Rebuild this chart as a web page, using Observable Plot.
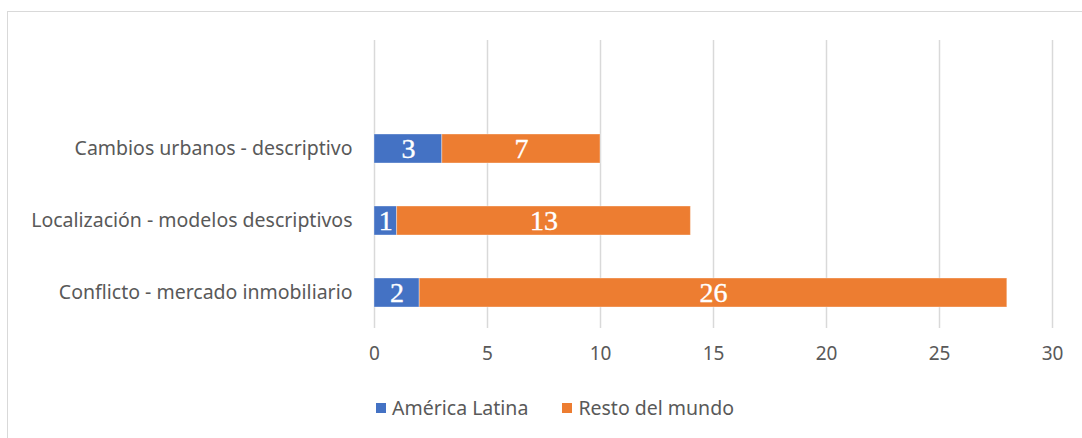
<!DOCTYPE html>
<html>
<head>
<meta charset="utf-8">
<script src="https://cdn.jsdelivr.net/npm/d3@7"></script>
<script src="https://cdn.jsdelivr.net/npm/@observablehq/plot@0.6"></script>
<style>
  html, body { margin: 0; padding: 0; background: #fff; }
  #wrap { position: relative; width: 1082px; height: 438px; overflow: hidden; font-family: "Noto Sans", sans-serif; }
  #frame { position: absolute; left: 7px; top: 11px; width: 1120px; height: 460px; border: 1.5px solid #d9d9d9; box-sizing: border-box; }
  #chart { position: absolute; left: 0; top: 0; }
  #legend { position: absolute; left: 376px; top: 394px; display: flex; gap: 34px; font-size: 19.5px; color: #595959; }
  .item { display: flex; align-items: center; gap: 6px; }
  .sw { width: 10px; height: 10px; display: inline-block; }
</style>
</head>
<body>
<div id="wrap">
  <div id="frame"></div>
  <div id="chart"></div>
  <div id="legend"></div>
</div>
<script>
const categories = ["Cambios urbanos - descriptivo", "Localización - modelos descriptivos", "Conflicto - mercado inmobiliario"];
const series = ["América Latina", "Resto del mundo"];
const latamValues = [3, 1, 2];
const restoValues = [7, 13, 26];
const xTicks = [0, 5, 10, 15, 20, 25, 30];
const colors = ["#4472C4", "#ED7D31"];

const data = [];
categories.forEach((c, i) => {
  data.push({category: c, series: series[0], value: latamValues[i]});
  data.push({category: c, series: series[1], value: restoValues[i]});
});

const chart = Plot.plot({
  width: 1082,
  height: 380,
  marginLeft: 374,
  marginRight: 30,
  marginTop: 112,
  marginBottom: 52,
  style: {background: "transparent", fontFamily: "'Noto Sans', sans-serif"},
  x: {domain: [0, 30], axis: null, label: null},
  y: {domain: categories, paddingInner: 0.6, paddingOuter: 0.3, axis: null, label: null},
  color: {domain: series, range: colors},
  marks: [
    Plot.ruleX(xTicks, {stroke: "#d9d9d9", strokeWidth: 1.5, insetTop: -72}),
    Plot.barX(data, Plot.stackX({y: "category", x: "value", fill: "series", order: series, stroke: "#ffffff", strokeOpacity: 0.35, strokeWidth: 1})),
    Plot.text(data, Plot.stackX({y: "category", x: "value", z: "series", order: series, text: d => String(d.value), fill: "white", stroke: "white", strokeWidth: 0.4, fontSize: 28, fontFamily: "'Liberation Serif', serif"})),
    Plot.axisX({ticks: xTicks, tickSize: 0, tickPadding: 18, fontSize: 19, color: "#595959", tickFormat: d => String(d), label: null}),
    Plot.axisY({tickSize: 0, tickPadding: 22, fontSize: 19.5, color: "#595959", label: null})
  ]
});
document.getElementById("chart").appendChild(chart);

const legend = document.getElementById("legend");
series.forEach((s, i) => {
  const item = document.createElement("div");
  item.className = "item";
  const sw = document.createElement("span");
  sw.className = "sw";
  sw.style.background = colors[i];
  const t = document.createElement("span");
  t.textContent = s;
  item.appendChild(sw);
  item.appendChild(t);
  legend.appendChild(item);
});
</script>
</body>
</html>
